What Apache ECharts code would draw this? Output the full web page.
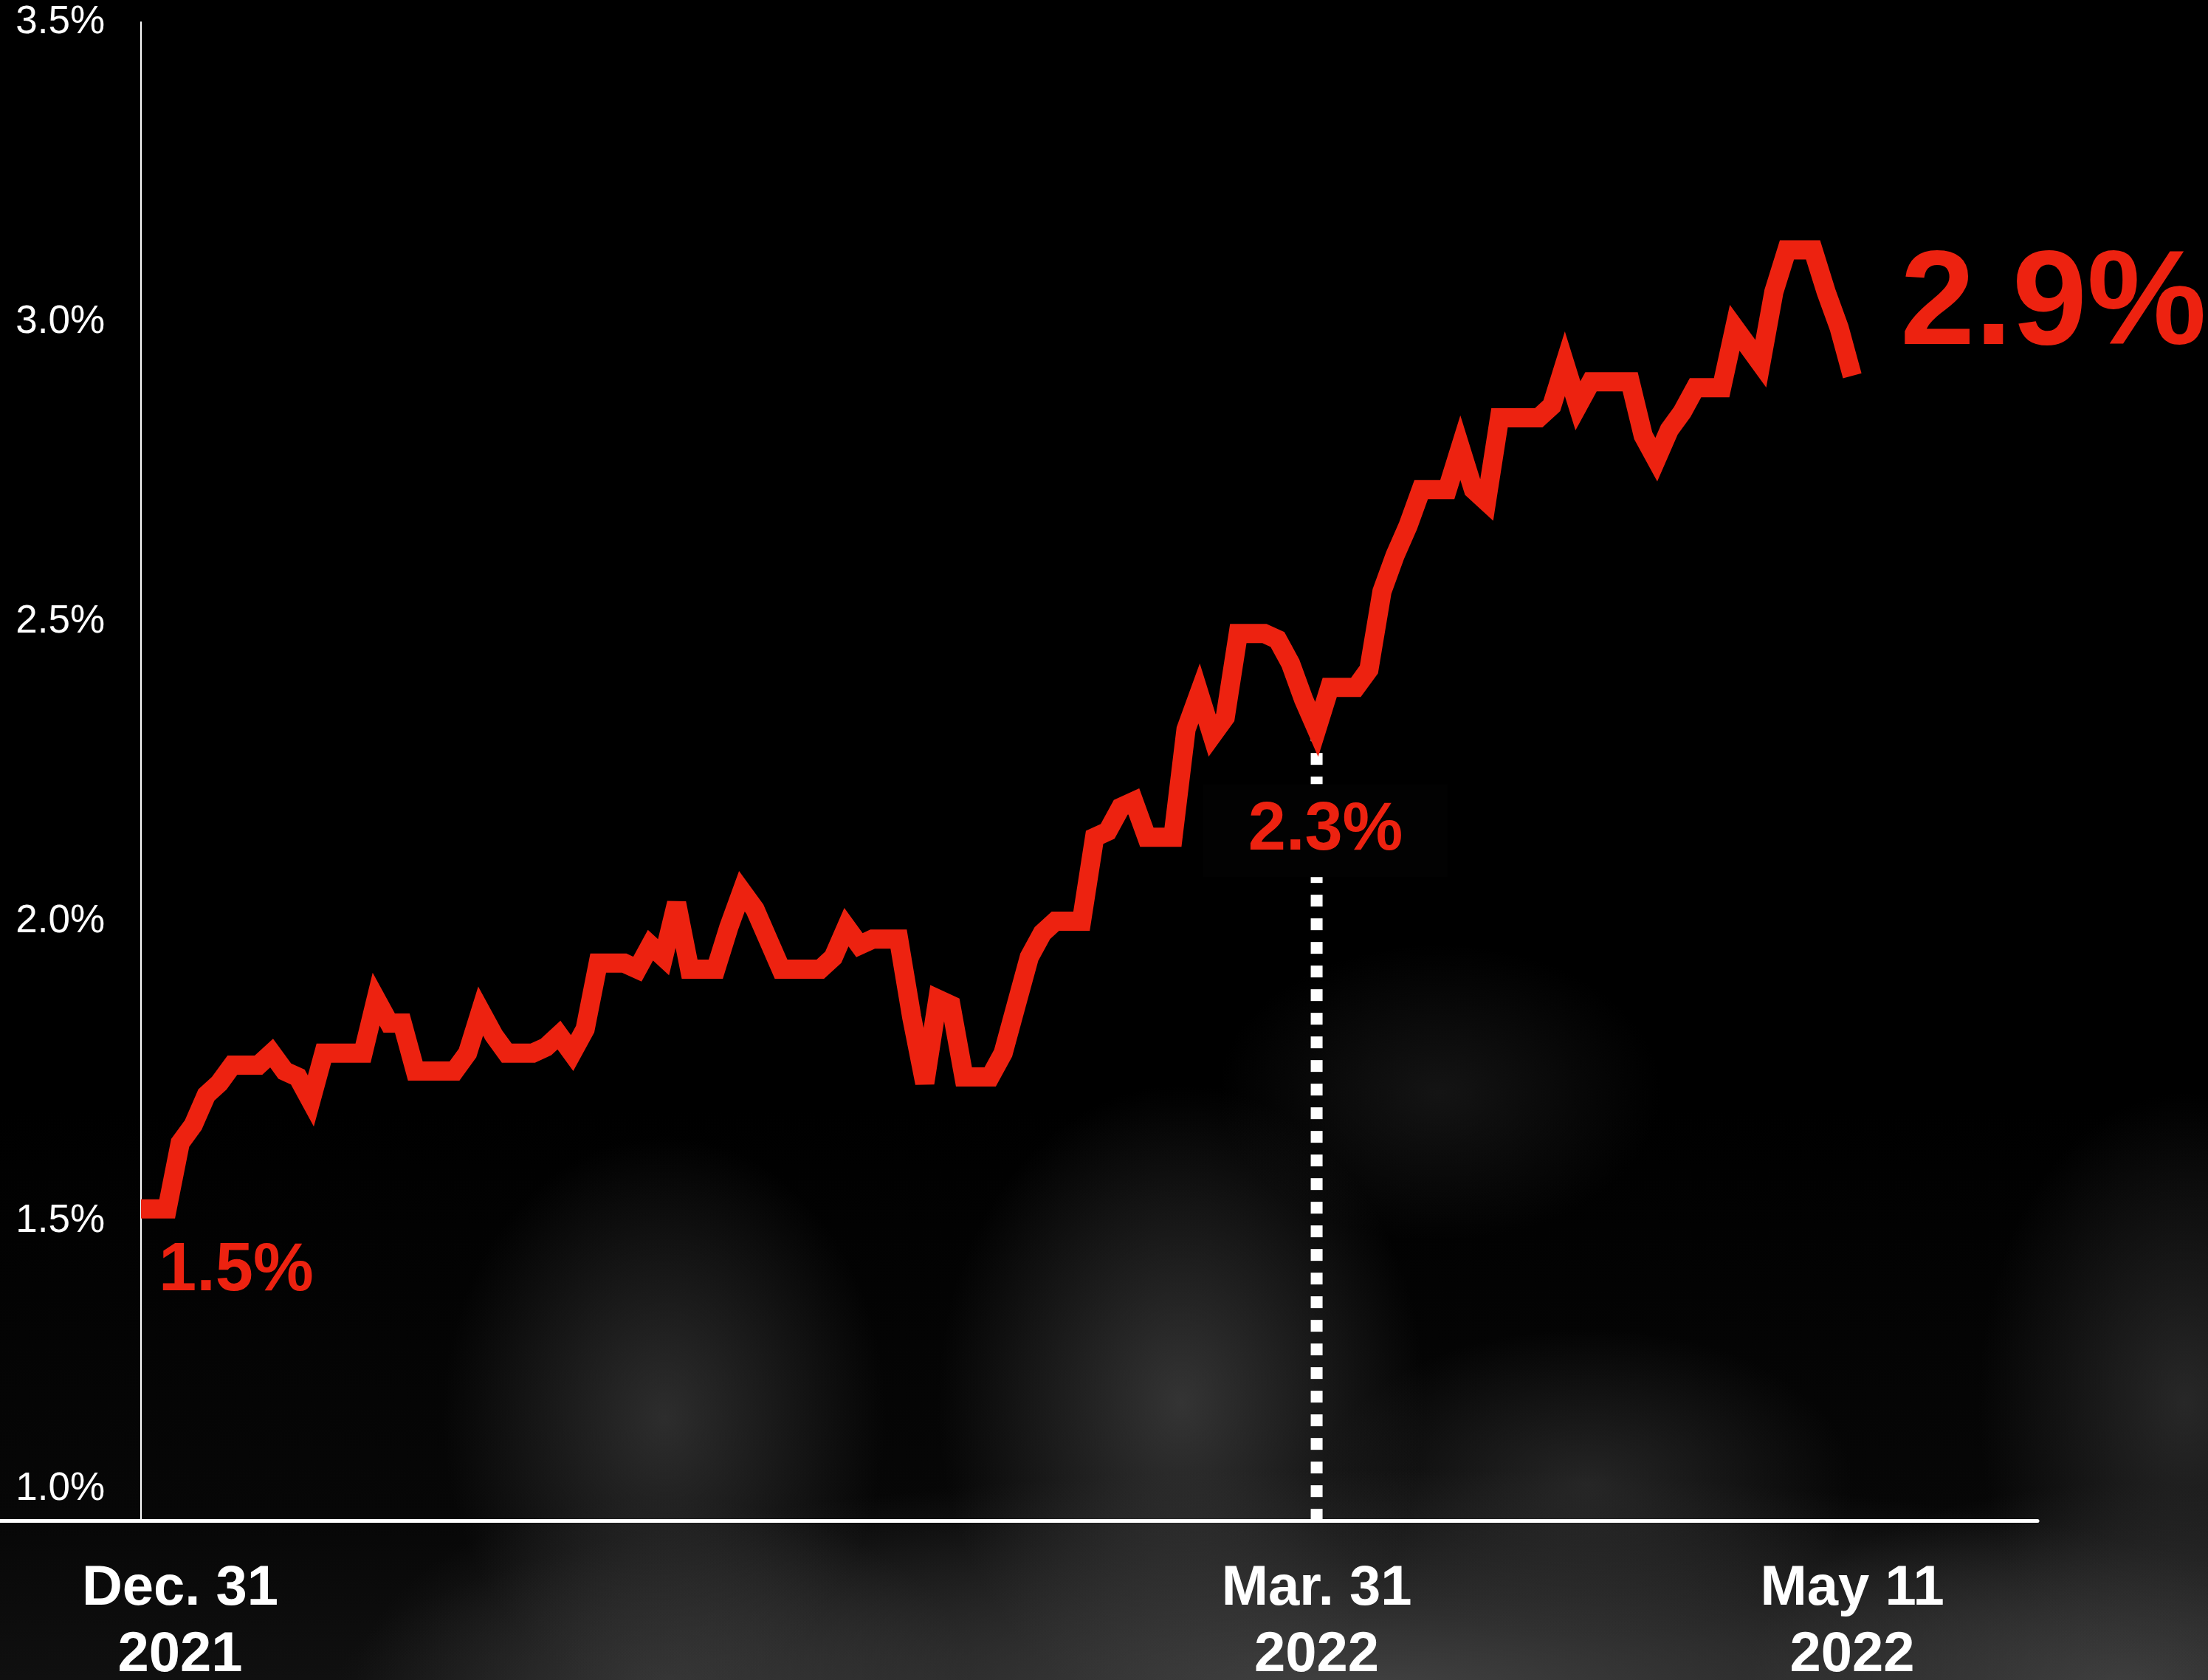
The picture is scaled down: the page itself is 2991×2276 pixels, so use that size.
<!DOCTYPE html>
<html>
<head>
<meta charset="utf-8">
<script src="https://cdn.jsdelivr.net/npm/echarts@6/dist/echarts.min.js"></script>
<style>
html, body { margin: 0; padding: 0; background: #000; }
#chart {
  width: 2991px; height: 2276px;
  background:
    radial-gradient(ellipse 300px 380px at 900px 1920px, rgba(62,62,62,0.7), rgba(62,62,62,0) 100%),
    radial-gradient(ellipse 330px 430px at 1600px 1900px, rgba(72,72,72,0.7), rgba(72,72,72,0) 100%),
    radial-gradient(ellipse 360px 210px at 2150px 2010px, rgba(58,58,58,0.6), rgba(58,58,58,0) 100%),
    radial-gradient(ellipse 280px 420px at 2960px 1900px, rgba(58,58,58,0.65), rgba(58,58,58,0) 100%),
    radial-gradient(ellipse 300px 200px at 1950px 1480px, rgba(40,40,40,0.5), rgba(40,40,40,0) 100%),
    radial-gradient(ellipse 1400px 300px at 1850px 2290px, rgba(78,78,78,0.8), rgba(78,78,78,0) 100%),
    radial-gradient(ellipse 520px 280px at 2880px 2290px, rgba(78,78,78,0.7), rgba(78,78,78,0) 100%),
    radial-gradient(ellipse 420px 260px at 900px 2290px, rgba(66,66,66,0.6), rgba(66,66,66,0) 100%),
    linear-gradient(to bottom, #000 0px, #000 1500px, #070707 2060px, #101010 2276px);
}
</style>
</head>
<body>
<div id="chart"></div>
<script>
// 10-year yield, one value per calendar day from Dec. 31, 2021 (day 0) to May 11, 2022 (day 131)
const decValues = [1.52];
const janValues = [1.52, 1.52, 1.63, 1.66, 1.71, 1.73, 1.76, 1.76, 1.76,
                   1.78, 1.75, 1.74, 1.70, 1.78, 1.78, 1.78,
                   1.78, 1.87, 1.83, 1.83, 1.75, 1.75, 1.75,
                   1.75, 1.78, 1.85, 1.81, 1.78, 1.78, 1.78,
                   1.79];
const febValues = [1.81, 1.78, 1.82, 1.93, 1.93, 1.93,
                   1.92, 1.96, 1.94, 2.03, 1.92, 1.92, 1.92,
                   1.99, 2.05, 2.02, 1.97, 1.92, 1.92, 1.92,
                   1.92, 1.94, 1.99, 1.96, 1.97, 1.97, 1.97,
                   1.84];
const marValues = [1.73, 1.87, 1.86, 1.74, 1.74, 1.74,
                   1.78, 1.86, 1.94, 1.98, 2.00, 2.00, 2.00,
                   2.14, 2.15, 2.19, 2.20, 2.14, 2.14, 2.14,
                   2.32, 2.38, 2.31, 2.34, 2.48, 2.48, 2.48,
                   2.47, 2.43, 2.37, 2.32];
const aprValues = [2.39, 2.39, 2.39,
                   2.42, 2.55, 2.61, 2.66, 2.72, 2.72, 2.72,
                   2.79, 2.72, 2.70, 2.84, 2.84, 2.84, 2.84,
                   2.86, 2.93, 2.86, 2.90, 2.90, 2.90, 2.90,
                   2.81, 2.77, 2.82, 2.85, 2.89, 2.89];
const mayValues = [2.89,
                   2.99, 2.96, 2.93, 3.05, 3.12, 3.12, 3.12,
                   3.05, 2.99, 2.91];
const yieldValues = [].concat(decValues, janValues, febValues, marValues, aprValues, mayValues);

const xTickDays = [0, 90, 131];
const xTickLabels = ['Dec. 31\n2021', 'Mar. 31\n2022', 'May 11\n2022'];
const yMin = 1.0, yMax = 3.5, yStep = 0.5;
const markerDay = 90;
const annotationDays = [0, 90, 131];
const annotationTexts = ['1.5%', '2.3%', '2.9%'];

const RED = '#ED2210';
const FONT = 'Liberation Sans, Arial, Helvetica, sans-serif';

const chart = echarts.init(document.getElementById('chart'), null, { renderer: 'canvas' });

const seriesData = yieldValues.map((v, i) => [i, v]);

const X_MIN = -10.794, X_MAX = 145.18;
const GRID_LEFT = 0, GRID_RIGHT = 231;
const gridWidth = 2991 - GRID_LEFT - GRID_RIGHT;
const yAxisShift = -(0 - X_MIN) / (X_MAX - X_MIN) * gridWidth; // place y axis at day 0

chart.setOption({
  backgroundColor: 'transparent',
  animation: false,
  grid: { left: GRID_LEFT, right: GRID_RIGHT, top: 30, bottom: 216, containLabel: false, outerBoundsMode: 'none' },
  xAxis: {
    type: 'value',
    min: X_MIN,
    max: X_MAX,
    splitLine: { show: false },
    axisTick: { show: false },
    axisLine: { show: true, onZero: false, lineStyle: { color: '#ffffff', width: 5 } },
    axisLabel: {
      show: true,
      customValues: xTickDays,
      margin: 48,
      color: '#ffffff',
      fontFamily: FONT,
      fontWeight: 'bold',
      fontSize: 76,
      lineHeight: 90,
      formatter: function (v) {
        const idx = xTickDays.indexOf(Math.round(v));
        if (idx < 0) return '';
        const parts = xTickLabels[idx].split('\n');
        if (idx === 0) return parts.map(p => '{s|' + p + '}').join('\n');
        return '{n|' + parts.join('}\n{n|') + '}';
      },
      rich: {
        s: { color: '#ffffff', fontFamily: FONT, fontWeight: 'bold', fontSize: 76, lineHeight: 90, padding: [0, 0, 0, 106] },
        n: { color: '#ffffff', fontFamily: FONT, fontWeight: 'bold', fontSize: 76, lineHeight: 90 }
      }
    }
  },
  yAxis: {
    type: 'value',
    position: 'left',
    offset: yAxisShift,
    min: yMin,
    max: yMax,
    interval: yStep,
    splitLine: { show: false },
    axisTick: { show: false },
    axisLine: { show: true, onZero: false, lineStyle: { color: '#ffffff', width: 2 } },
    axisLabel: {
      show: true,
      showMinLabel: true,
      showMaxLabel: true,
      margin: 49,
      color: '#ffffff',
      fontFamily: FONT,
      fontSize: 53,
      formatter: function (v) {
        const t = v.toFixed(1) + '%';
        return Math.abs(v - yMin) < 1e-9 ? '{lo|' + t + '}' : t;
      },
      rich: {
        lo: { color: '#ffffff', fontFamily: FONT, fontSize: 53, padding: [0, 0, 86, 0] }
      }
    }
  },
  series: [
    {
      name: 'marker',
      type: 'line',
      z: 1,
      symbol: 'none',
      silent: true,
      data: [[markerDay, yieldValues[markerDay]], [markerDay, yMin]],
      lineStyle: { color: '#ffffff', width: 16, type: [16, 16], cap: 'butt' }
    },
    {
      name: '10-year yield',
      type: 'line',
      z: 3,
      symbol: 'none',
      clip: false,
      data: seriesData,
      lineStyle: { color: RED, width: 26, join: 'miter', miterLimit: 4, cap: 'butt' }
    }
  ]
});

function px(day) { return chart.convertToPixel({ seriesIndex: 1 }, [day, yieldValues[day]]); }
const pA = px(annotationDays[0]);
const pB = px(annotationDays[1]);
const pC = px(annotationDays[2]);

chart.setOption({
  graphic: [
    {
      type: 'text', z: 20, x: pA[0] + 24, y: pA[1] + 85,
      style: { text: annotationTexts[0], fill: RED, fontFamily: FONT, fontWeight: 'bold', fontSize: 92, align: 'left', verticalAlign: 'middle' }
    },
    {
      type: 'text', z: 20, x: pB[0] + 12, y: pB[1] + 137,
      style: { text: annotationTexts[1], fill: RED, fontFamily: FONT, fontWeight: 'bold', fontSize: 92, lineHeight: 92,
               align: 'center', verticalAlign: 'middle', backgroundColor: '#020202', padding: [17, 61, 17, 61] }
    },
    {
      type: 'text', z: 20, x: pC[0] + 65, y: pC[1] - 93,
      style: { text: annotationTexts[2], fill: RED, fontFamily: FONT, fontWeight: 'bold', fontSize: 182, align: 'left', verticalAlign: 'middle' }
    }
  ]
});
</script>
</body>
</html>
